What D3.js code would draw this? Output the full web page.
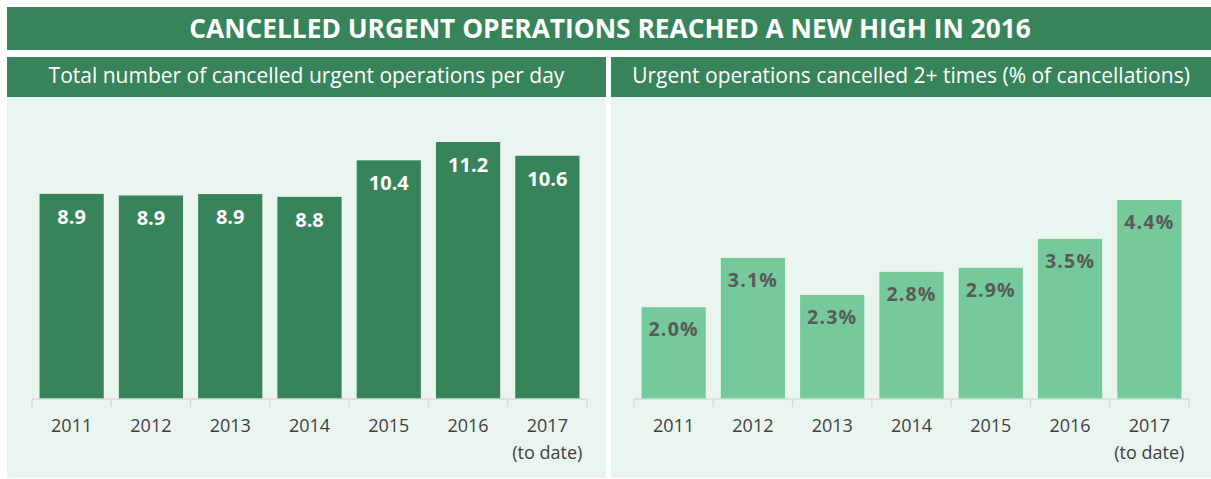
<!DOCTYPE html>
<html>
<head>
<meta charset="utf-8">
<script src="https://cdn.jsdelivr.net/npm/d3@7"></script>
<style>
  body { margin: 0; background: #fff; }
  svg { display: block; font-family: 'Open Sans', sans-serif; }
</style>
</head>
<body>
<div id="chart"></div>
<script>
const years = ['2011', '2012', '2013', '2014', '2015', '2016', '2017'];
const perDay = [8.94, 8.87, 8.93, 8.81, 10.4, 11.2, 10.6];
const repeatPct = [2.03, 3.12, 2.3, 2.81, 2.9, 3.54, 4.4];
const title = 'CANCELLED URGENT OPERATIONS REACHED A NEW HIGH IN 2016';
const leftTitle = 'Total number of cancelled urgent operations per day';
const rightTitle = 'Urgent operations cancelled 2+ times (% of cancellations)';

const W = 1211, H = 479;
const dark = '#37845b';
const light = '#75c99b';
const panelBg = '#ebf5f0';

const svg = d3.select('#chart').append('svg')
  .attr('width', W)
  .attr('height', H);

// title band
svg.append('rect')
  .attr('x', 7).attr('y', 7)
  .attr('width', W - 7).attr('height', 43)
  .attr('fill', dark);

svg.append('text')
  .attr('x', 610).attr('y', 29)
  .attr('dy', '0.35em')
  .attr('text-anchor', 'middle')
  .attr('fill', '#fff')
  .attr('font-weight', 700)
  .attr('font-size', 26.3)
  .text(title);

const panels = [
  { x0: 7, x1: 606, axis: [32, 587], values: perDay, title: leftTitle,
    y: d3.scaleLinear().domain([0, 11.2]).range([399, 142]),
    fill: dark, labelColor: '#fff', fmt: d3.format('.1f'), labelSize: 20, labelOffset: 23, spacing: 0 },
  { x0: 611, x1: W, axis: [634, 1189], values: repeatPct, title: rightTitle,
    y: d3.scaleLinear().domain([0, 4.4]).range([399, 200]),
    fill: light, labelColor: '#595959', fmt: d => d3.format('.1f')(d) + '%', labelSize: 19.5, labelOffset: 22, spacing: 1.2 }
];

panels.forEach(p => {
  const g = svg.append('g');

  // subtitle band
  g.append('rect')
    .attr('x', p.x0).attr('y', 57)
    .attr('width', p.x1 - p.x0).attr('height', 40)
    .attr('fill', dark);

  g.append('text')
    .attr('x', (p.x0 + p.x1) / 2).attr('y', 76)
    .attr('dy', '0.35em')
    .attr('text-anchor', 'middle')
    .attr('fill', '#fff')
    .attr('font-size', 21)
    .text(p.title);

  // panel background
  g.append('rect')
    .attr('x', p.x0).attr('y', 97)
    .attr('width', p.x1 - p.x0).attr('height', H - 97 - 1)
    .attr('fill', panelBg);

  const x = d3.scaleBand()
    .domain(years)
    .range(p.axis)
    .paddingInner(0.19)
    .paddingOuter(0.095);

  g.selectAll('.bar')
    .data(p.values)
    .enter()
    .append('rect')
    .attr('class', 'bar')
    .attr('x', (d, i) => x(years[i]))
    .attr('y', d => p.y(d))
    .attr('width', x.bandwidth())
    .attr('height', d => p.y(0) - p.y(d))
    .attr('fill', p.fill);

  g.selectAll('.val')
    .data(p.values)
    .enter()
    .append('text')
    .attr('class', 'val')
    .attr('x', (d, i) => x(years[i]) + x.bandwidth() / 2)
    .attr('y', d => p.y(d) + p.labelOffset)
    .attr('dy', '0.35em')
    .attr('text-anchor', 'middle')
    .attr('fill', p.labelColor)
    .attr('font-weight', 700)
    .attr('font-size', p.labelSize)
    .attr('letter-spacing', p.spacing)
    .text(p.fmt);

  // category axis, ticks between bands
  const bounds = d3.range(years.length + 1).map(i => p.axis[0] + i * (p.axis[1] - p.axis[0]) / years.length);
  const ax = g.append('g').attr('transform', `translate(0, ${p.y(0)})`);
  ax.append('line')
    .attr('x1', p.axis[0]).attr('x2', p.axis[1])
    .attr('stroke', '#d9d9d9').attr('stroke-width', 1.5);
  ax.selectAll('.tick')
    .data(bounds)
    .enter()
    .append('line')
    .attr('x1', d => d).attr('x2', d => d)
    .attr('y1', 0).attr('y2', 8)
    .attr('stroke', '#d9d9d9').attr('stroke-width', 1.5);

  ax.selectAll('.lbl')
    .data(years)
    .enter()
    .append('text')
    .attr('x', d => x(d) + x.bandwidth() / 2)
    .attr('y', 27)
    .attr('dy', '0.35em')
    .attr('text-anchor', 'middle')
    .attr('fill', '#404040')
    .attr('font-size', 18)
    .text(d => d);

  ax.append('text')
    .attr('x', x('2017') + x.bandwidth() / 2)
    .attr('y', 54)
    .attr('dy', '0.35em')
    .attr('text-anchor', 'middle')
    .attr('fill', '#404040')
    .attr('font-size', 18)
    .text('(to date)');
});
</script>
</body>
</html>
